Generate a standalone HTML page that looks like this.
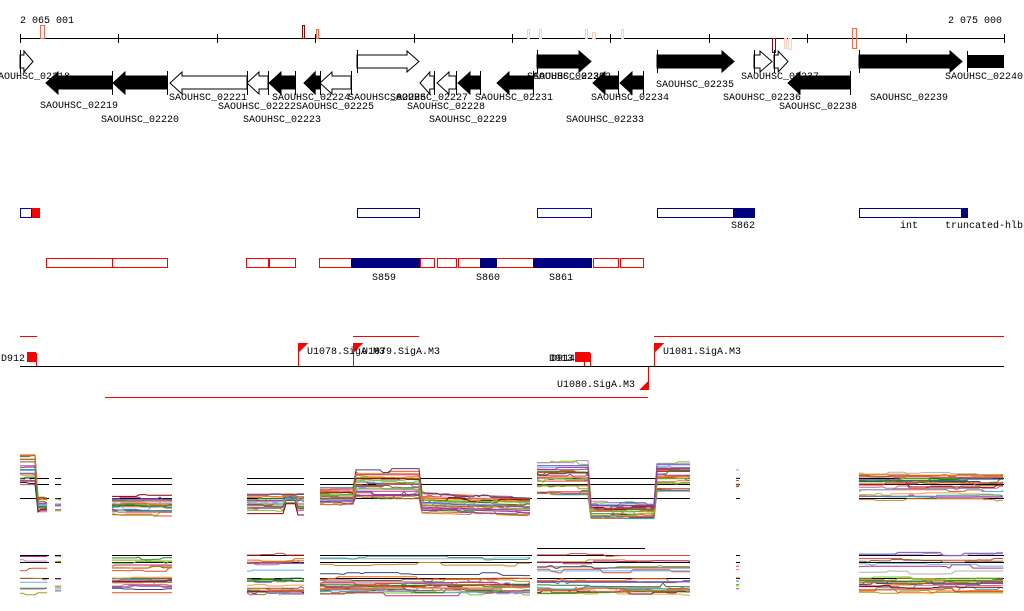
<!DOCTYPE html>
<html><head><meta charset="utf-8"><style>
html,body{margin:0;padding:0;background:#fff;width:1024px;height:611px;overflow:hidden}
svg text{font-family:"Liberation Mono","DejaVu Sans Mono",monospace;font-size:10px;fill:#000}
</style></head><body>
<svg id="s" width="1024" height="611" xmlns="http://www.w3.org/2000/svg" shape-rendering="crispEdges">
<g id="axis">
<text x="20" y="23">2 065 001</text>
<text x="1002" y="23" text-anchor="end">2 075 000</text>
<line x1="20" y1="38.5" x2="1004" y2="38.5" stroke="#000"/>
</g>
<g id="genes"></g>
<g fill="none" stroke-width="1">
<rect x="20.5" y="208.5" width="11" height="9" stroke="#00c"/>
<rect x="32" y="208" width="8" height="10" fill="#f00" stroke="none"/>
<rect x="357.5" y="208.5" width="62" height="9" stroke="#000080"/>
<rect x="537.5" y="208.5" width="54" height="9" stroke="#00c"/>
<rect x="657.5" y="208.5" width="97" height="9" stroke="#000080"/>
<rect x="733" y="208" width="22" height="10" fill="#000080" stroke="none"/>
<rect x="859.5" y="208.5" width="108" height="9" stroke="#000080"/>
<rect x="961" y="208" width="6" height="10" fill="#000080" stroke="none"/>
</g>
<text x="731" y="228">S862</text><text x="900" y="228">int</text><text x="945" y="228">truncated-hlb</text>
<g fill="none" stroke="#f00">
<rect x="46.5" y="258.5" width="66" height="9"/><rect x="112.5" y="258.5" width="55" height="9"/>
<rect x="246.5" y="258.5" width="22" height="9"/><rect x="269.5" y="258.5" width="26" height="9"/>
<rect x="319.5" y="258.5" width="32" height="9"/><rect x="420.5" y="258.5" width="14" height="9"/>
<rect x="437.5" y="258.5" width="19" height="9"/><rect x="458.5" y="258.5" width="75" height="9"/>
<rect x="593.5" y="258.5" width="25" height="9"/><rect x="620.5" y="258.5" width="23" height="9"/>
</g>
<g fill="#000080"><rect x="351" y="258" width="69" height="10"/><rect x="480" y="258" width="17" height="10"/><rect x="533" y="258" width="59" height="10"/></g>
<text x="372" y="280">S859</text><text x="476" y="280">S860</text><text x="549" y="280">S861</text>
<g stroke="#f00" fill="none">
<line x1="20" y1="336.5" x2="37" y2="336.5"/><line x1="353" y1="336.5" x2="419" y2="336.5"/><line x1="654" y1="336.5" x2="1004" y2="336.5"/>
<line x1="105" y1="397.5" x2="648" y2="397.5"/>
<line x1="298.5" y1="343" x2="298.5" y2="366"/><line x1="353.5" y1="343" x2="353.5" y2="366"/>
<line x1="654.5" y1="343" x2="654.5" y2="366"/><line x1="648.5" y1="366" x2="648.5" y2="390"/>
<line x1="36.5" y1="353" x2="36.5" y2="366"/><line x1="584.5" y1="353" x2="584.5" y2="366"/><line x1="590.5" y1="353" x2="590.5" y2="366"/>
</g>
<g fill="#f00">
<polygon points="299,343 308,343 299,352"/><polygon points="354,343 363,343 354,352"/><polygon points="655,343 664,343 655,352"/>
<polygon points="648,381 648,390 639,390"/>
<rect x="27" y="352" width="9" height="10"/><rect x="575" y="352" width="15" height="10"/>
</g>
<line x1="20" y1="366.5" x2="1004" y2="366.5" stroke="#000"/>
<text x="1" y="361">D912</text>
<text x="307" y="354">U1078.SigA.M3</text><text x="362" y="354">U1079.SigA.M3</text>
<text x="549" y="361">D913</text><text x="551" y="361">D914</text>
<text x="663" y="354">U1081.SigA.M3</text><text x="557" y="387">U1080.SigA.M3</text>
<g id="plots" shape-rendering="auto"></g>
</svg>
<script>
var NS="http://www.w3.org/2000/svg",G=document.getElementById('genes'),P=document.getElementById('plots');
function el(p,t,a,txt){var e=document.createElementNS(NS,t);for(var k in a)e.setAttribute(k,a[k]);if(txt)e.textContent=txt;p.appendChild(e);return e;}
var ax=document.getElementById('axis');
for(var i=0;i<=10;i++){var x=Math.round(20+i*98.4)+.5;el(ax,'line',{x1:x,y1:34,x2:x,y2:43,stroke:'#000'});}
[[40,25,4,13,'#f64'],[302,25,2,13,'#900'],[316,29,2,9,'#f64'],[527,29,2,9,'#fcb'],[539,29,2,9,'#fcb'],[585,29,2,9,'#fcb'],[592,32,3,6,'#fcb'],[621,29,2,9,'#fcb'],[772,38,3,14,'#900'],[784,38,2,10,'#fcb'],[788,38,3,11,'#fcb'],[852,28,4,20,'#f64']].forEach(function(m){el(ax,'rect',{x:m[0]+.5,y:m[1]+.5,width:m[2],height:m[3],fill:'none',stroke:m[4]});});
var g=[[20,33,0,0],[46,112,1,1],[113,167,1,1],[170,247,1,0],[247,268,1,0],[269,295,1,1],[304,320,1,1],[320,351,1,0],[357,419,0,0],[420,434,1,0],[437,456,1,0],[458,480,1,1],[497,533,1,1],[537,591,0,1],[593,618,1,1],[620,643,1,1],[657,734,0,1],[754,772,0,0],[774,788,0,0],[788,850,1,1],[859,962,0,1],[967,1004,0,2]];
g.forEach(function(a){var x1=a[0],x2=a[1],r=a[2],f=a[3];var top=r?72:51,bot=r?94:72,mid=(top+bot)/2,bt=r?76:55,bb=r?89:68,h=Math.min(12,(x2-x1)*0.7),pts;
 if(f==2){el(G,'rect',{x:x1,y:bt,width:x2-x1,height:bb-bt,fill:'#000'});el(G,'line',{x1:x1+.5,y1:top,x2:x1+.5,y2:bot,stroke:'#000'});return;}
 if(r==0)pts=[[x1,bt],[x2-h,bt],[x2-h,top],[x2,mid],[x2-h,bot],[x2-h,bb],[x1,bb]];
 else pts=[[x2,bt],[x1+h,bt],[x1+h,top],[x1,mid],[x1+h,bot],[x1+h,bb],[x2,bb]];
 el(G,'polygon',{points:pts.map(function(p){return p.join(',')}).join(' '),fill:f?'#000':'#fff',stroke:'#000','shape-rendering':'auto'});
 var sx=r?x2:x1;el(G,'line',{x1:sx+.5,y1:top-1,x2:sx+.5,y2:bot+1,stroke:'#000'});});
var L=[["SAOUHSC_02218",-8,79],["SAOUHSC_02219",40,108],["SAOUHSC_02220",101,122],["SAOUHSC_02221",169,100],["SAOUHSC_02222",218,109],["SAOUHSC_02223",243,122],["SAOUHSC_02224",272,100],["SAOUHSC_02225",296,109],["SAOUHSC_02226",348,100],["SAOUHSC_02227",390,100],["SAOUHSC_02228",407,109],["SAOUHSC_02229",429,122],["SAOUHSC_02231",475,100],["SAOUHSC_02230",527,79],["SAOUHSC_02232",533,79],["SAOUHSC_02233",566,122],["SAOUHSC_02234",591,100],["SAOUHSC_02235",656,87],["SAOUHSC_02236",723,100],["SAOUHSC_02237",741,79],["SAOUHSC_02238",779,109],["SAOUHSC_02239",870,100],["SAOUHSC_02240",945,79]];
L.forEach(function(l){el(G,'text',{x:l[1],y:l[2]},l[0]);});
var seed=7;function R(){seed=(seed*16807)%2147483647;return seed/2147483647;}
var C=['#e05020','#d08030','#a0a020','#60d020','#c03080','#9040a0','#60b0f0','#c080c0','#e04040','#806020','#f0a040','#208020','#404080','#d06090','#b0b0b0','#30a0a0','#ff6600','#8b0000','#6a5acd','#228b22'];
function seg(x1,x2,prof,n,ylo,yhi){for(var i=0;i<n;i++){var off=R(),pts=[],y,d=0;for(var x=x1;x<=x2;x+=3){if(R()<0.12)d=(R()-.5)*4;var b=prof(x,off);y=b+d;y=Math.max(ylo,Math.min(yhi,y));pts.push(x+','+y.toFixed(1));}
 el(P,'polyline',{points:pts.join(' '),fill:'none',stroke:C[i%C.length],'stroke-width':1});}}
function hl(x1,x2,ys){ys.forEach(function(y){el(P,'line',{x1:x1,y1:y+.5,x2:x2,y2:y+.5,stroke:'#000','shape-rendering':'crispEdges'});});}
var T=[478,484,498],B=[555,562,578];
var S=[[20,49],[55,61],[112,172],[247,304],[320,532],[537,690],[736,740],[859,1004]];
S.forEach(function(s){hl(s[0],s[1],T);});
seg(20,49,function(x,o){return x<37?455+o*30:498+o*14;},20,452,512);
seg(55,61,function(x,o){return 496+o*16;},8,490,514);
seg(112,172,function(x,o){return 496+o*19;},20,492,516);
seg(247,304,function(x,o){return 494+o*20-(x>284&&x<296?10*o:0);},20,486,516);
seg(320,532,function(x,o){return x<355?487+o*18:(x<420?468+o*30:492+o*20+(x-420)*0.03);},26,466,517);
seg(537,690,function(x,o){return x<590?462+o*32:(x<655?503+o*14:462+o*28);},26,458,520);
seg(736,740,function(x,o){return 466+o*28;},8,464,496);
seg(859,1004,function(x,o){return 470+o*30;},22,468,502);
S.forEach(function(s){hl(s[0],s[1],B);});
function bp(x,o){return o<0.3?553+o*70:570+o*24;}
S.forEach(function(s){seg(s[0],s[1],bp,s[1]-s[0]>30?22:8,550,596);});
hl(537,645,[548]);
</script>
</body></html>
